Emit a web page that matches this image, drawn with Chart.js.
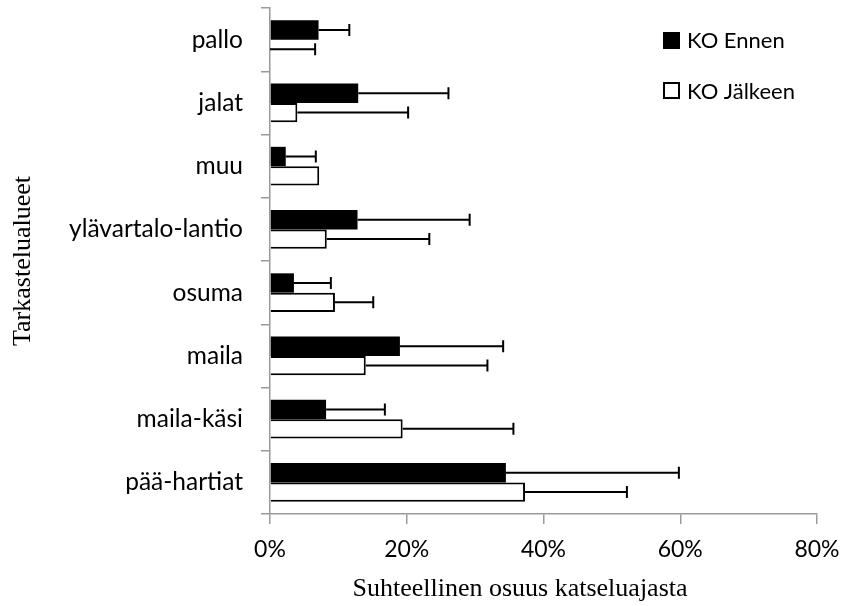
<!DOCTYPE html>
<html>
<head>
<meta charset="utf-8">
<script src="https://cdn.jsdelivr.net/npm/chart.js@4.4.0/dist/chart.umd.min.js"></script>
<style>
    body { margin: 0; background: #fff; }
    #wrap { width: 843px; height: 606px; position: relative; }
</style>
</head>
<body>
<div id="wrap"><canvas id="myChart"></canvas></div>
<script>
let labels = ['pallo', 'jalat', 'muu', 'ylävartalo-lantio', 'osuma', 'maila', 'maila-käsi', 'pää-hartiat'];
// osuus katseluajasta (%) ja keskihajonnat
let ennen = [7.1, 12.9, 2.3, 12.8, 3.5, 19.0, 8.2, 34.5];
let ennenSd = [4.5, 13.2, 4.4, 16.4, 5.4, 15.1, 8.6, 25.3];
let jalkeen = [0, 4.0, 7.2, 8.3, 9.5, 14.0, 19.4, 37.3];
let jalkeenSd = [6.6, 16.2, 0, 15.0, 5.6, 17.8, 16.2, 14.9];
let xTicks = [0, 20, 40, 60, 80];

let catFont = { family: 'Lato', size: 24.5 };
let tickFont = { family: 'Lato', size: 23 };
let titleFont = '26px "Liberation Serif"';
let axisGray = '#9a9a9a';

// virhepalkit: viiva palkin päästä + poikkiviiva
const errorBars = {
    id: 'errorBars',
    afterDatasetsDraw(chart) {
        const ctx = chart.ctx
        const xs = chart.scales.x
        chart.data.datasets.forEach((ds, di) => {
            const meta = chart.getDatasetMeta(di)
            meta.data.forEach((bar, i) => {
                const sd = ds.sd[i]
                if (!sd) return
                const x0 = xs.getPixelForValue(ds.data[i])
                const x1 = xs.getPixelForValue(ds.data[i] + sd)
                ctx.save()
                ctx.strokeStyle = '#000'
                ctx.lineWidth = 2
                ctx.beginPath()
                ctx.moveTo(x0, bar.y)
                ctx.lineTo(x1, bar.y)
                ctx.moveTo(x1, bar.y - 6)
                ctx.lineTo(x1, bar.y + 6)
                ctx.stroke()
                ctx.restore()
            })
        })
    }
}

// selite ja akselien otsikot
const extras = {
    id: 'extras',
    afterDraw(chart) {
        const ctx = chart.ctx
        const area = chart.chartArea
        ctx.save()
        ctx.fillStyle = '#000'
        ctx.strokeStyle = '#000'
        ctx.lineWidth = 2

        ctx.fillRect(663, 32, 17, 17)
        ctx.fillStyle = '#fff'
        ctx.fillRect(664, 83, 15, 15)
        ctx.strokeRect(664, 83, 15, 15)
        ctx.fillStyle = '#000'
        ctx.font = '22px Lato'
        ctx.textBaseline = 'middle'
        ctx.textAlign = 'left'
        ctx.fillText(chart.data.datasets[0].label, 687, 41)
        ctx.fillText(chart.data.datasets[1].label, 687, 92)

        ctx.font = titleFont
        ctx.textAlign = 'center'
        ctx.fillText('Suhteellinen osuus katseluajasta', 520, 589)

        ctx.translate(23, (area.top + area.bottom) / 2)
        ctx.rotate(-Math.PI / 2)
        ctx.fillText('Tarkastelualueet', 0, 0)
        ctx.restore()
    }
}

let ctxChart = document.getElementById('myChart').getContext('2d');

let chart = new Chart(ctxChart, {
    type: 'bar',
    data: {
        labels: labels,
        datasets: [{
            label: 'KO Ennen',
            data: ennen,
            sd: ennenSd,
            backgroundColor: '#000',
            borderColor: '#000',
            borderWidth: 0
        }, {
            label: 'KO Jälkeen',
            data: jalkeen,
            sd: jalkeenSd,
            backgroundColor: '#fff',
            borderColor: '#000',
            borderWidth: 2
        }]
    },
    options: {
        indexAxis: 'y',
        responsive: true,
        maintainAspectRatio: false,
        animation: false,
        categoryPercentage: 0.61,
        barPercentage: 1.0,
        layout: { padding: { top: 8, right: 26, left: 0, bottom: 0 } },
        plugins: {
            legend: { display: false },
            tooltip: { enabled: false }
        },
        scales: {
            x: {
                min: 0,
                max: 80,
                afterBuildTicks: (scale) => { scale.ticks = xTicks.map(v => ({ value: v })) },
                afterFit: (scale) => {
                    scale.height = 92
                    scale.paddingLeft = 0
                    scale.paddingRight = 0
                },
                grid: { drawOnChartArea: false, drawTicks: true, tickLength: 10, color: axisGray, lineWidth: 1.5 },
                border: { color: axisGray, width: 1.5 },
                ticks: {
                    font: tickFont,
                    color: '#000',
                    padding: 12,
                    maxRotation: 0,
                    callback: (v) => v + '%'
                }
            },
            y: {
                afterFit: (scale) => {
                    scale.width = 270
                    scale.paddingTop = 0
                    scale.paddingBottom = 0
                },
                grid: { offset: true, drawOnChartArea: false, drawTicks: true, tickLength: 9, color: axisGray, lineWidth: 1.5 },
                border: { color: axisGray, width: 1.5 },
                ticks: { font: catFont, color: '#000', padding: 18 }
            }
        }
    },
    plugins: [errorBars, extras]
});
</script>
</body>
</html>
